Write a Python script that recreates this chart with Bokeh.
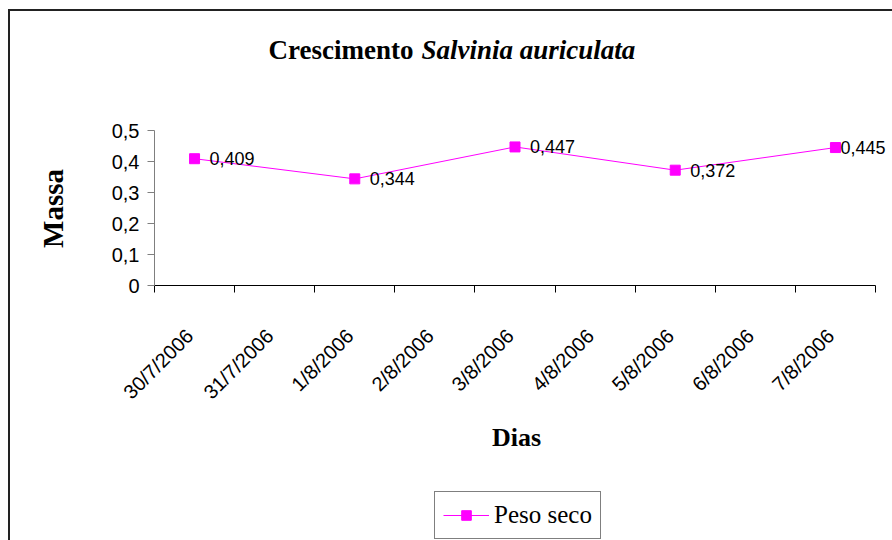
import math

from bokeh.core.properties import value
from bokeh.embed import file_html
from bokeh.models import (ColumnDataSource, FixedTicker, Label, LabelSet,
                          Legend, LegendItem, Range1d)
from bokeh.plotting import figure
from bokeh.resources import INLINE

# Calendar days shown on the horizontal axis
dias = ["30/7/2006", "31/7/2006", "1/8/2006", "2/8/2006", "3/8/2006",
        "4/8/2006", "5/8/2006", "6/8/2006", "7/8/2006"]

# Days on which the dry mass was weighed, and the measured values
datas_medidas = ["30/7/2006", "1/8/2006", "3/8/2006", "5/8/2006", "7/8/2006"]
peso_seco = [0.409, 0.344, 0.447, 0.372, 0.445]

# Vertical axis ticks (Portuguese decimal comma)
y_ticks = [0, 0.1, 0.2, 0.3, 0.4, 0.5]
y_tick_labels = ["0", "0,1", "0,2", "0,3", "0,4", "0,5"]

SANS = "Liberation Sans"
SERIF = "Liberation Serif"
MAGENTA = "#FF00FF"

W, H = 892, 540
AXIS_LEFT, AXIS_RIGHT = 154, 875     # pixel span of the day axis
AXIS_TOP, AXIS_BOTTOM = 130, 285     # pixel span of the mass axis

# each day occupies one unit; points sit in the middle of their day
x_pos = [dias.index(d) + 0.5 for d in datas_medidas]
rotulos = [f"{v:.3f}".replace(".", ",") for v in peso_seco]
# value labels sit right of the marker; the last one is pulled in near the edge
label_dx = [15, 15, 15, 15, 5]

src = ColumnDataSource(dict(x=x_pos, y=peso_seco, rotulo=rotulos, dx=label_dx))

# The plotting frame fills the whole canvas so no text is clipped; both axes
# are pinned at zero and keep their own bounds.
n = len(dias)
y_max = max(y_ticks)
px_per_day = (AXIS_RIGHT - AXIS_LEFT) / n
px_per_unit = (AXIS_BOTTOM - AXIS_TOP) / y_max
x_start = -AXIS_LEFT / px_per_day
x_end = (W - AXIS_LEFT) / px_per_day
y_end = AXIS_BOTTOM / px_per_unit
y_start = -(H - AXIS_BOTTOM) / px_per_unit

p = figure(frame_width=W, frame_height=H,
           x_range=Range1d(x_start, x_end), y_range=Range1d(y_start, y_end),
           output_backend="svg", toolbar_location=None,
           min_border_left=0, min_border_right=0,
           min_border_top=0, min_border_bottom=0,
           styles={"box-shadow": "inset 8px 9px 0 0 #ffffff, "
                                 "inset 10px 11px 0 0 #222222"})
p.outline_line_color = None
p.grid.visible = False
p.background_fill_alpha = 0
p.border_fill_alpha = 0

# ---- horizontal axis: labels under each day (rotated text hangs from its
# right end, so the anchor sits a little left of the day centre), ticks
# between days
label_shift = 0.06
p.xaxis.fixed_location = 0
p.xaxis.bounds = (0, n)
p.xaxis.ticker = FixedTicker(ticks=[i + 0.5 - label_shift for i in range(n)],
                             minor_ticks=list(range(n + 1)))
p.xaxis.major_label_overrides = {i + 0.5 - label_shift: d
                                 for i, d in enumerate(dias)}
p.xaxis.major_tick_in = 0
p.xaxis.major_tick_out = 0
p.xaxis.minor_tick_in = 0
p.xaxis.minor_tick_out = 7
p.xaxis.minor_tick_line_color = "black"
p.xaxis.axis_line_color = "black"
p.xaxis.major_label_orientation = math.pi / 4
p.xaxis.major_label_standoff = 40
p.xaxis.major_label_text_font = SANS
p.xaxis.major_label_text_font_size = "20px"
p.xaxis.major_label_text_color = "black"

# ---- vertical axis
p.yaxis.fixed_location = 0
p.yaxis.bounds = (0, y_max)
p.yaxis.ticker = FixedTicker(ticks=y_ticks)
p.yaxis.major_label_overrides = dict(zip(y_ticks, y_tick_labels))
p.yaxis.major_tick_in = 0
p.yaxis.major_tick_out = 7
p.yaxis.minor_tick_line_color = None
p.yaxis.axis_line_color = "#7f7f7f"
p.yaxis.major_tick_line_color = "#7f7f7f"
p.yaxis.major_label_standoff = 8
p.yaxis.major_label_text_font = SANS
p.yaxis.major_label_text_font_size = "20px"
p.yaxis.major_label_text_color = "black"

# ---- axis titles
p.add_layout(Label(x=52, y=332, x_units="screen", y_units="screen",
                   text="Massa", angle=math.pi / 2, text_align="center",
                   text_baseline="middle", text_font=SERIF,
                   text_font_size="29px", text_font_style="bold",
                   text_color="black"))
p.add_layout(Label(x=516, y=103, x_units="screen", y_units="screen",
                   text="Dias", text_align="center", text_baseline="middle",
                   text_font=SERIF, text_font_size="26px",
                   text_font_style="bold", text_color="black"))

# ---- series
r_line = p.line("x", "y", source=src, line_color=MAGENTA, line_width=1)
r_pts = p.scatter("x", "y", source=src, marker="square", size=10,
                  fill_color=MAGENTA, line_color=MAGENTA)

p.add_layout(LabelSet(x="x", y="y", text="rotulo", x_offset="dx", source=src,
                      text_baseline="middle", text_align="left",
                      text_font=value(SANS), text_font_size="18px",
                      text_color="black"))

# ---- chart title: plain part plus italic species name
p.add_layout(Label(x=268, y=491, x_units="screen", y_units="screen",
                   text="Crescimento", text_font=SERIF, text_font_size="27px",
                   text_font_style="bold", text_color="black",
                   text_baseline="alphabetic"))
p.add_layout(Label(x=421, y=491, x_units="screen", y_units="screen",
                   text="Salvinia auriculata", text_font=SERIF,
                   text_font_size="27px", text_font_style="bold italic",
                   text_color="black", text_baseline="alphabetic"))

# ---- legend at the foot of the chart
legend = Legend(items=[LegendItem(label="Peso seco", renderers=[r_line, r_pts])],
                location=(434, 1), orientation="vertical",
                border_line_color="black", border_line_width=1,
                background_fill_color="white", background_fill_alpha=1,
                label_text_font=SERIF, label_text_font_size="25px",
                label_text_color="black", glyph_width=46, glyph_height=24,
                label_height=30, label_standoff=5, padding=8, spacing=0,
                margin=0)
p.add_layout(legend)

open("out.html", "w").write(file_html(p, INLINE))
